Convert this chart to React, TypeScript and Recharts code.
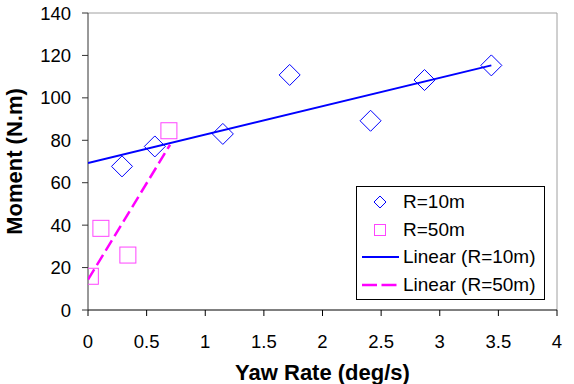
import {
  ComposedChart,
  Scatter,
  XAxis,
  YAxis,
  ReferenceLine,
  Label,
} from 'recharts';

const FONT = '"Liberation Sans", Arial, sans-serif';

// measured points
const r10 = [
  { x: 0.29, y: 67.7 },
  { x: 0.57, y: 77.1 },
  { x: 1.15, y: 83 },
  { x: 1.72, y: 110.8 },
  { x: 2.41, y: 89.2 },
  { x: 2.87, y: 108.4 },
  { x: 3.44, y: 115.3 },
];
const r50 = [
  { x: 0.02, y: 15.9 },
  { x: 0.11, y: 38.5 },
  { x: 0.34, y: 25.9 },
  { x: 0.69, y: 84.5 },
];

// trendline end points as drawn
const trend10 = [
  { x: 0, y: 69.3 },
  { x: 3.44, y: 115.3 },
];
const trend50 = [
  { x: 0, y: 14.3 },
  { x: 0.7, y: 77.9 },
];

const xTicks = [0, 0.5, 1, 1.5, 2, 2.5, 3, 3.5, 4];
const yTicks = [0, 20, 40, 60, 80, 100, 120, 140];

const legendItems = ['R=10m', 'R=50m', 'Linear (R=10m)', 'Linear (R=50m)'];

const blue = '#0000ff';
const pink = '#ff00ff';
const squarePink = '#ff44ff';

const Diamond = (props: any) => {
  const { cx, cy } = props;
  const r = 10.5;
  return (
    <path
      d={`M${cx},${cy - r}L${cx + r},${cy}L${cx},${cy + r}L${cx - r},${cy}Z`}
      fill="none"
      stroke={blue}
      strokeWidth={1}
    />
  );
};

const Square = (props: any) => {
  const { cx, cy } = props;
  const h = 8;
  return <rect x={cx - h} y={cy - h} width={h * 2} height={h * 2} fill="none" stroke={squarePink} strokeWidth={1} />;
};

const NoDot = () => <g />;

const LegendBox = () => (
  <div
    style={{
      position: 'absolute',
      left: 356,
      top: 186,
      width: 187,
      height: 111,
      border: '1px solid #000',
      background: '#fff',
      fontFamily: FONT,
      fontSize: 19,
      color: '#000',
      paddingTop: 1,
      boxSizing: 'content-box',
    }}
  >
    {legendItems.map((name, i) => (
      <div key={name} style={{ height: 27.5, display: 'flex', alignItems: 'center' }}>
        <svg width={45} height={27} style={{ flex: 'none' }}>
          {i === 0 && <path d="M23,8L29,14L23,20L17,14Z" fill="none" stroke={blue} strokeWidth={1} />}
          {i === 1 && <rect x={17.5} y={8.5} width={11} height={11} fill="none" stroke={squarePink} strokeWidth={1} />}
          {i === 2 && <line x1={5} x2={42} y1={14} y2={14} stroke={blue} strokeWidth={2} />}
          {i === 3 && <line x1={5} x2={42} y1={14} y2={14} stroke={pink} strokeWidth={2.5} strokeDasharray="15 4.5" />}
        </svg>
        <span style={{ marginLeft: 1, lineHeight: '27px', whiteSpace: 'nowrap' }}>{name}</span>
      </div>
    ))}
  </div>
);

export default function App() {
  return (
    <div style={{ position: 'absolute', left: 0, top: 0, width: 574, height: 384, background: '#fff' }}>
      <ComposedChart width={574} height={384} margin={{ top: 13, right: 17, bottom: 0, left: 0 }}>
        <XAxis
          type="number"
          dataKey="x"
          domain={[0, 4]}
          ticks={xTicks}
          height={74}
          tickSize={6}
          tickMargin={19}
          stroke="#000"
          tick={{ fill: '#000', fontSize: 18.5, fontFamily: FONT }}
          allowDataOverflow
        >
          <Label
            value="Yaw Rate (deg/s)"
            position="insideBottom"
            offset={4}
            style={{ fontSize: 22, fontWeight: 700, fontFamily: FONT, fill: '#000' }}
          />
        </XAxis>
        <YAxis
          type="number"
          dataKey="y"
          domain={[0, 140]}
          ticks={yTicks}
          width={88}
          tickSize={6}
          tickMargin={11}
          stroke="#333"
          tick={{ fill: '#000', fontSize: 18.5, fontFamily: FONT }}
          allowDataOverflow
        >
          <Label
            value="Moment (N.m)"
            angle={-90}
            position="insideLeft"
            offset={14}
            style={{ fontSize: 22, fontWeight: 700, fontFamily: FONT, fill: '#000', textAnchor: 'middle' }}
          />
        </YAxis>
        <ReferenceLine y={140} stroke="#a0a0a0" strokeWidth={1} />
        <ReferenceLine x={4} stroke="#a0a0a0" strokeWidth={1} />
        <Scatter
          name="Linear (R=10m)"
          data={trend10}
          line={{ stroke: blue, strokeWidth: 2 }}
          shape={NoDot}
          isAnimationActive={false}
        />
        <Scatter
          name="Linear (R=50m)"
          data={trend50}
          line={{ stroke: pink, strokeWidth: 2.5, strokeDasharray: '12 5' }}
          shape={NoDot}
          isAnimationActive={false}
        />
        <Scatter name="R=10m" data={r10} shape={Diamond} isAnimationActive={false} />
        <Scatter name="R=50m" data={r50} shape={Square} isAnimationActive={false} />
      </ComposedChart>
      <LegendBox />
    </div>
  );
}
